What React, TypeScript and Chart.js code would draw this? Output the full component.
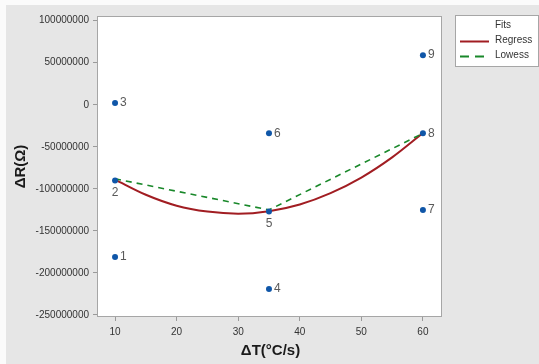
import { useEffect, useRef } from 'react';
import { Chart, registerables } from 'chart.js';

Chart.register(...registerables);

// ---- data ----
const pointX = [10, 10, 10, 35, 35, 35, 60, 60, 60];
const pointY = [-181e6, -90e6, 2e6, -219e6, -127e6, -34e6, -125e6, -34e6, 59e6];
const pointLabels = ['1', '2', '3', '4', '5', '6', '7', '8', '9'];

const regressX = [10, 15, 20, 25, 30, 35, 40, 45, 50, 55, 60];
const regressY = [-89e6, -107e6, -120e6, -127e6, -129.5e6, -126.5e6, -118.5e6, -105e6, -86.5e6, -62.5e6, -33.5e6];

const lowessX = [10, 35, 60];
const lowessY = [-88e6, -125e6, -34e6];

const xTicks = [10, 20, 30, 40, 50, 60];
const yTicks = [100e6, 50e6, 0, -50e6, -100e6, -150e6, -200e6, -250e6];

const seriesNames = ['Regress', 'Lowess'];
const legendTitle = 'Fits';
const xTitle = 'ΔT(°C/s)';
const yTitle = 'ΔR(Ω)';

// ---- style ----
const W = 539;
const H = 364;
const FONT = '"Liberation Sans", Arial, sans-serif';
const PANEL = '#e6e6e6';
const BLUE = '#0f56a8';
const RED = '#a11d22';
const GREEN = '#19882a';
const labelBelow = new Set(['2', '5']);

const decorPlugin = {
  id: 'decor',
  beforeDraw(chart: any) {
    const { ctx } = chart;
    ctx.save();
    ctx.fillStyle = '#fbfbfb';
    ctx.fillRect(0, 0, W, H);
    ctx.fillStyle = PANEL;
    ctx.fillRect(6, 5, W - 6, H - 5);
    const a = chart.chartArea;
    ctx.fillStyle = '#ffffff';
    ctx.fillRect(a.left, a.top, a.right - a.left, a.bottom - a.top);
    ctx.restore();
  },
  afterDatasetsDraw(chart: any) {
    const { ctx } = chart;
    const a = chart.chartArea;
    ctx.save();
    ctx.strokeStyle = '#a6a6a6';
    ctx.lineWidth = 1;
    ctx.strokeRect(a.left + 0.5, a.top + 0.5, a.right - a.left - 1, a.bottom - a.top - 1);

    // point labels
    const meta = chart.getDatasetMeta(2);
    ctx.font = `12px ${FONT}`;
    ctx.fillStyle = '#595959';
    meta.data.forEach((el: any, i: number) => {
      const lbl = pointLabels[i];
      if (labelBelow.has(lbl)) {
        ctx.textAlign = 'center';
        ctx.textBaseline = 'middle';
        ctx.fillText(lbl, el.x, el.y + 12);
      } else {
        ctx.textAlign = 'left';
        ctx.textBaseline = 'middle';
        ctx.fillText(lbl, el.x + 5, el.y);
      }
    });

    // axis titles
    ctx.fillStyle = '#1a1a1a';
    ctx.font = `bold 15px ${FONT}`;
    ctx.textAlign = 'center';
    ctx.textBaseline = 'middle';
    ctx.fillText(xTitle, (a.left + a.right) / 2 + 1, 351);
    ctx.save();
    ctx.translate(21, (a.top + a.bottom) / 2);
    ctx.rotate(-Math.PI / 2);
    ctx.fillText(yTitle, 0, 0);
    ctx.restore();

    // legend
    const lx = 455, ly = 15, lw = W - 455 - 1, lh = 51;
    ctx.fillStyle = '#ffffff';
    ctx.fillRect(lx, ly, lw, lh);
    ctx.strokeStyle = '#a6a6a6';
    ctx.strokeRect(lx + 0.5, ly + 0.5, lw, lh);
    ctx.font = `10px ${FONT}`;
    ctx.fillStyle = '#333333';
    ctx.textAlign = 'center';
    ctx.fillText(legendTitle, 503, 25);
    ctx.textAlign = 'left';
    ctx.fillText(seriesNames[0], 495, 40);
    ctx.fillText(seriesNames[1], 495, 55);
    ctx.lineWidth = 2;
    ctx.strokeStyle = RED;
    ctx.beginPath();
    ctx.moveTo(460, 41.5);
    ctx.lineTo(489, 41.5);
    ctx.stroke();
    ctx.strokeStyle = GREEN;
    ctx.setLineDash([9, 6]);
    ctx.beginPath();
    ctx.moveTo(460, 56.5);
    ctx.lineTo(489, 56.5);
    ctx.stroke();
    ctx.restore();
  },
};

export default function App() {
  const ref = useRef<HTMLCanvasElement | null>(null);

  useEffect(() => {
    document.body.style.margin = '0';
    const canvas = ref.current!;
    const chart = new Chart(canvas, {
      type: 'scatter',
      data: {
        datasets: [
          {
            label: seriesNames[0],
            data: regressX.map((x, i) => ({ x, y: regressY[i] })),
            showLine: true,
            borderColor: RED,
            borderWidth: 2,
            pointRadius: 0,
            tension: 0.4,
            cubicInterpolationMode: 'monotone',
            order: 3,
          } as any,
          {
            label: seriesNames[1],
            data: lowessX.map((x, i) => ({ x, y: lowessY[i] })),
            showLine: true,
            borderColor: GREEN,
            borderWidth: 1.6,
            borderDash: [6, 5],
            pointRadius: 0,
            order: 2,
          } as any,
          {
            label: 'Points',
            data: pointX.map((x, i) => ({ x, y: pointY[i] })),
            backgroundColor: BLUE,
            borderColor: BLUE,
            pointRadius: 3,
            borderWidth: 0,
            order: 1,
          },
        ],
      },
      options: {
        responsive: false,
        animation: false,
        layout: { padding: { top: 16, left: 0, right: W - 442, bottom: 0 } },
        plugins: { legend: { display: false }, tooltip: { enabled: false } },
        scales: {
          x: {
            type: 'linear',
            min: 7.07,
            max: 63.1,
            afterBuildTicks: (s: any) => {
              s.ticks = xTicks.map((v) => ({ value: v }));
            },
            afterFit: (s: any) => {
              s.height = H - 317 - 16 + 16;
            },
            grid: { display: true, drawOnChartArea: false, drawTicks: true, tickLength: 4, color: '#9a9a9a' },
            border: { display: false },
            ticks: {
              padding: 5,
              color: '#333333',
              font: { family: FONT, size: 10 },
              callback: (v: any) => String(v),
            },
          },
          y: {
            type: 'linear',
            min: -252.4e6,
            max: 105.6e6,
            afterBuildTicks: (s: any) => {
              s.ticks = yTicks.map((v) => ({ value: v }));
            },
            afterFit: (s: any) => {
              s.width = 97;
            },
            grid: { display: true, drawOnChartArea: false, drawTicks: true, tickLength: 4, color: '#9a9a9a' },
            border: { display: false },
            ticks: {
              padding: 4,
              color: '#333333',
              font: { family: FONT, size: 10 },
              callback: (v: any) => String(v),
            },
          },
        },
      },
      plugins: [decorPlugin],
    });
    return () => chart.destroy();
  }, []);

  return (
    <div style={{ width: W, height: H }}>
      <canvas ref={ref} width={W} height={H} style={{ display: 'block' }} />
    </div>
  );
}
